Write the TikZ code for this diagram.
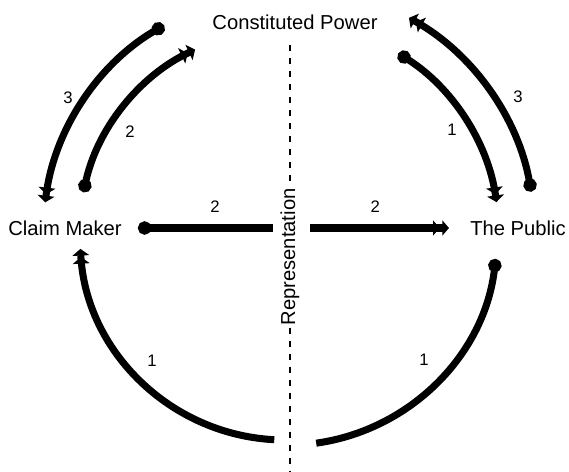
\documentclass[tikz,border=0pt]{standalone}
\usepackage{fontspec}
\setmainfont{Liberation Sans}
\usetikzlibrary{arrows.meta}
\begin{document}
\begin{tikzpicture}[x=0.02cm,y=0.02cm,
  lbl/.style={font=\fontsize{11.5}{13}\selectfont, inner sep=1pt},
  num/.style={font=\fontsize{9.5}{11}\selectfont, inner sep=0pt},
  flow/.style={line width=4pt, line cap=butt},
  dotstart/.style={{Circle[length=7.5pt]}-},
  dblhead/.style={-{Triangle[length=3.8pt,width=9.5pt,sep=0.8pt]Triangle[length=3.8pt,width=9.5pt,sep=1.8pt]}},
  dotdbl/.style={{Circle[length=7.5pt]}-{Triangle[length=3.8pt,width=9.5pt,sep=0.8pt]Triangle[length=3.8pt,width=9.5pt,sep=1.8pt]}},
  sep/.style={line width=1.1pt, dash pattern=on 3.4pt off 4pt}]
\useasboundingbox (0,0) rectangle (569,471);
% nodes
\node[lbl] (cp) at (295,449) {Constituted Power};
\node[lbl] (cm) at (65,243) {Claim Maker};
\node[lbl] (pub) at (518,243) {The Public};
\node[lbl, rotate=90] (rep) at (290,214) {Representation};
% coordinates
\coordinate (C) at (285,236);
\coordinate (sepTop) at (290,426);
\coordinate (sepBot) at (290,0);
\coordinate (hL1) at (138,243);
\coordinate (hL2) at (273,243);
\coordinate (hR1) at (310,243);
\coordinate (hR2) at (449,243);
\path (C) ++(120:242) coordinate (a3s);
\path (C) ++(168:206) coordinate (a2s);
\path (C) ++(58:214) coordinate (b1s);
\path (C) ++(10:250) coordinate (b3s);
\path (C) ++(267:205) coordinate (c1s);
\path (C) ++(-6.5:212) coordinate (d1s);
% separator
\draw[sep] (sepTop) -- (rep.east);
\draw[sep] (rep.west) -- (sepBot);
% horizontal flows
\draw[flow, dotstart] (hL1) -- (hL2) node[num, pos=0.57, above=7pt] {2};
\draw[flow, -{Triangle[length=3.8pt,width=8.5pt,sep=1.5pt]Triangle[length=3.8pt,width=8.5pt]}] (hR1) -- (hR2) node[num, pos=0.47, above=7pt] {2};
% upper left
\draw[flow, dotdbl] (a3s) arc[start angle=120, end angle=173, radius=242];
\node[num] at (68,373) {3};
\draw[flow, dotdbl] (a2s) arc[start angle=168, end angle=115, radius=206];
\node[num] at (130,339) {2};
% upper right
\draw[flow, dotdbl] (b1s) arc[start angle=58, end angle=8, radius=214];
\node[num] at (452,341) {1};
\draw[flow, dotdbl] (b3s) arc[start angle=10, end angle=61, radius=250];
\node[num] at (518,374) {3};
% lower
\draw[flow, dblhead] (c1s) arc[start angle=267, end angle=183, radius=205];
\node[num] at (152,110) {1};
\draw[flow, dotstart] (d1s) arc[start angle=-6.5, end angle=-82, radius=210];
\node[num] at (424,111) {1};
\end{tikzpicture}
\end{document}
